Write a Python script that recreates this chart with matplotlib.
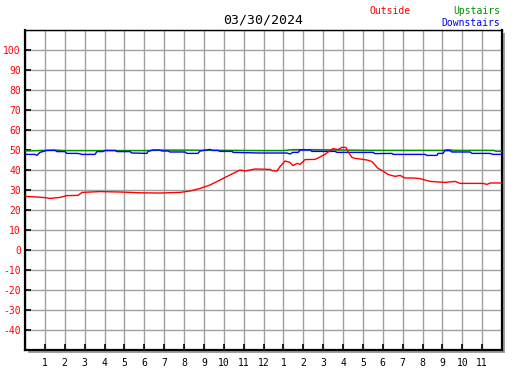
import matplotlib
matplotlib.use("Agg")
import matplotlib.pyplot as plt
from matplotlib.patches import Rectangle

# ---- data (hours since midnight, degrees) ----
out_hours = [0.0, 0.6, 1.0, 1.26, 1.76, 2.11, 2.67, 2.87, 3.77, 4.78, 5.79, 6.79, 7.8, 8.3,
             8.81, 9.31, 9.81, 10.31, 10.82, 11.07, 11.57, 12.33, 12.43, 12.68, 12.83, 13.08,
             13.33, 13.48, 13.69, 13.84, 14.09, 14.59, 14.84, 15.09, 15.35, 15.5, 15.75, 15.95,
             16.15, 16.25, 16.45, 16.6, 16.86, 17.21, 17.46, 17.61, 17.76, 18.01, 18.26, 18.62,
             18.87, 19.12, 19.52, 19.87, 20.38, 21.13, 21.64, 21.89, 23.04, 23.25, 23.4, 24.0]
out_temp = [26.8, 26.5, 26.2, 25.8, 26.3, 27.2, 27.3, 28.8, 29.2, 29.0, 28.6, 28.5, 28.8, 29.5,
            30.8, 32.5, 35.0, 37.5, 40.0, 39.5, 40.5, 40.3, 39.7, 39.5, 41.7, 44.5,
            43.8, 42.2, 43.3, 42.8, 45.2, 45.3, 46.5, 47.8, 49.7, 50.7, 50.2, 51.3,
            51.3, 49.2, 46.3, 45.8, 45.5, 45.0, 44.2, 42.5, 40.8, 39.5, 37.8, 36.8,
            37.3, 36.0, 36.0, 35.7, 34.3, 33.8, 34.3, 33.3, 33.3, 32.8, 33.5, 33.5]

down_px = [25, 35, 37, 40, 47, 55, 57, 65, 67, 78, 82, 95, 97, 103, 105, 115, 117, 130, 132,
           147, 148, 153, 160, 162, 168, 170, 185, 187, 198, 200, 210, 212, 218, 220, 232, 233,
           260, 287, 290, 293, 298, 300, 310, 312, 335, 337, 373, 375, 392, 393, 425, 427, 437,
           438, 443, 445, 450, 452, 470, 472, 490, 493, 502]
down_hours = [round((p - 25) / 19.875, 2) for p in down_px]
down_temp = [47.8, 47.8, 47.3, 48.8, 49.8, 49.8, 49.2, 49.2, 48.3, 48.3, 47.8, 47.8, 49.2, 49.2,
             49.8, 49.8, 49.2, 49.2, 48.5, 48.3, 49.3, 50.0, 50.0, 49.5, 49.5, 49.0, 49.0, 48.3,
             48.3, 49.5, 50.3, 49.8, 49.8, 49.3, 49.3, 48.8, 48.5, 48.5, 48.0, 48.8, 48.8, 50.0,
             50.0, 49.3, 49.3, 48.8, 48.8, 48.2, 48.3, 47.8, 47.8, 47.3, 47.3, 48.3, 48.3, 49.7,
             49.7, 49.0, 49.0, 48.3, 48.3, 47.8, 47.8]

up_hours = [0.0, 1.0, 1.5, 2.0, 6.0, 7.0, 12.0, 13.0, 13.5, 14.5, 16.0, 17.5, 21.0, 21.3, 21.6,
            23.6, 23.7, 24.0]
up_temp = [49.5, 49.8, 50.0, 49.7, 49.7, 50.0, 49.7, 49.7, 50.2, 50.2, 50.0, 49.8, 49.8, 50.2,
           49.8, 49.8, 49.3, 49.3]

y_ticks = list(range(-40, 101, 10))
x_ticks = list(range(1, 24))
x_labels = [str(h if h <= 12 else h - 12) for h in x_ticks]

title = "03/30/2024"

# ---- figure ----
W, H = 527, 370
fig = plt.figure(figsize=(W / 100, H / 100), dpi=100)
fig.patch.set_facecolor("white")
mono = "DejaVu Sans Mono"

L, R, T, B = 25, 502, 30, 350
ax_rect = [L / W, (H - B) / H, (R - L) / W, (B - T) / H]

# drop shadow
fig.patches.append(Rectangle(((L + 3) / W, (H - B - 3) / H), (R - L) / W, (B - T) / H,
                             transform=fig.transFigure, facecolor="#a0a0a0",
                             edgecolor="none", zorder=0))

ax = fig.add_axes(ax_rect, zorder=1)
ax.set_facecolor("white")
ax.set_xlim(0, 24)
ax.set_ylim(-50, 110)

ax.set_xticks(x_ticks)
ax.set_xticklabels(x_labels, fontfamily=mono, fontsize=7, color="black")
ax.set_xticks(range(0, 25), minor=True)
ax.set_yticks(y_ticks)
ax.set_yticklabels([str(v) for v in y_ticks], fontfamily=mono, fontsize=7, color="red")
ax.set_yticks(range(-50, 111, 10), minor=True)
ax.set_axisbelow(True)
ax.grid(True, which="minor", color="#a0a0a0", linewidth=1.0)
ax.grid(True, which="major", color="#a0a0a0", linewidth=1.0)
ax.tick_params(which="major", direction="in", length=4, width=1.2, color="black", pad=3)
ax.tick_params(which="minor", length=0)
ax.tick_params(axis="x", pad=6)

for s in ["left", "bottom", "right"]:
    ax.spines[s].set_linewidth(1.6)
    ax.spines[s].set_color("black")
ax.spines["top"].set_linewidth(1.0)
ax.spines["top"].set_color("black")

ax.plot(up_hours, up_temp, color="#009000", linewidth=1.0, zorder=3)
ax.plot(down_hours, down_temp, color="#0000ff", linewidth=1.0, zorder=4)
ax.plot(out_hours, out_temp, color="#ff0000", linewidth=1.0, zorder=5)

fig.text(263 / W, 1 - 20 / H, title, ha="center", va="center", fontfamily=mono,
         fontsize=9.5, color="black")
fig.text(390 / W, 1 - 11 / H, "Outside", ha="center", va="center", fontfamily=mono,
         fontsize=7, color="red")
fig.text(500 / W, 1 - 11 / H, "Upstairs", ha="right", va="center", fontfamily=mono,
         fontsize=7, color="#009000")
fig.text(500 / W, 1 - 23 / H, "Downstairs", ha="right", va="center", fontfamily=mono,
         fontsize=7, color="#0000ff")

fig.savefig("out.png", dpi=100, facecolor="white")
